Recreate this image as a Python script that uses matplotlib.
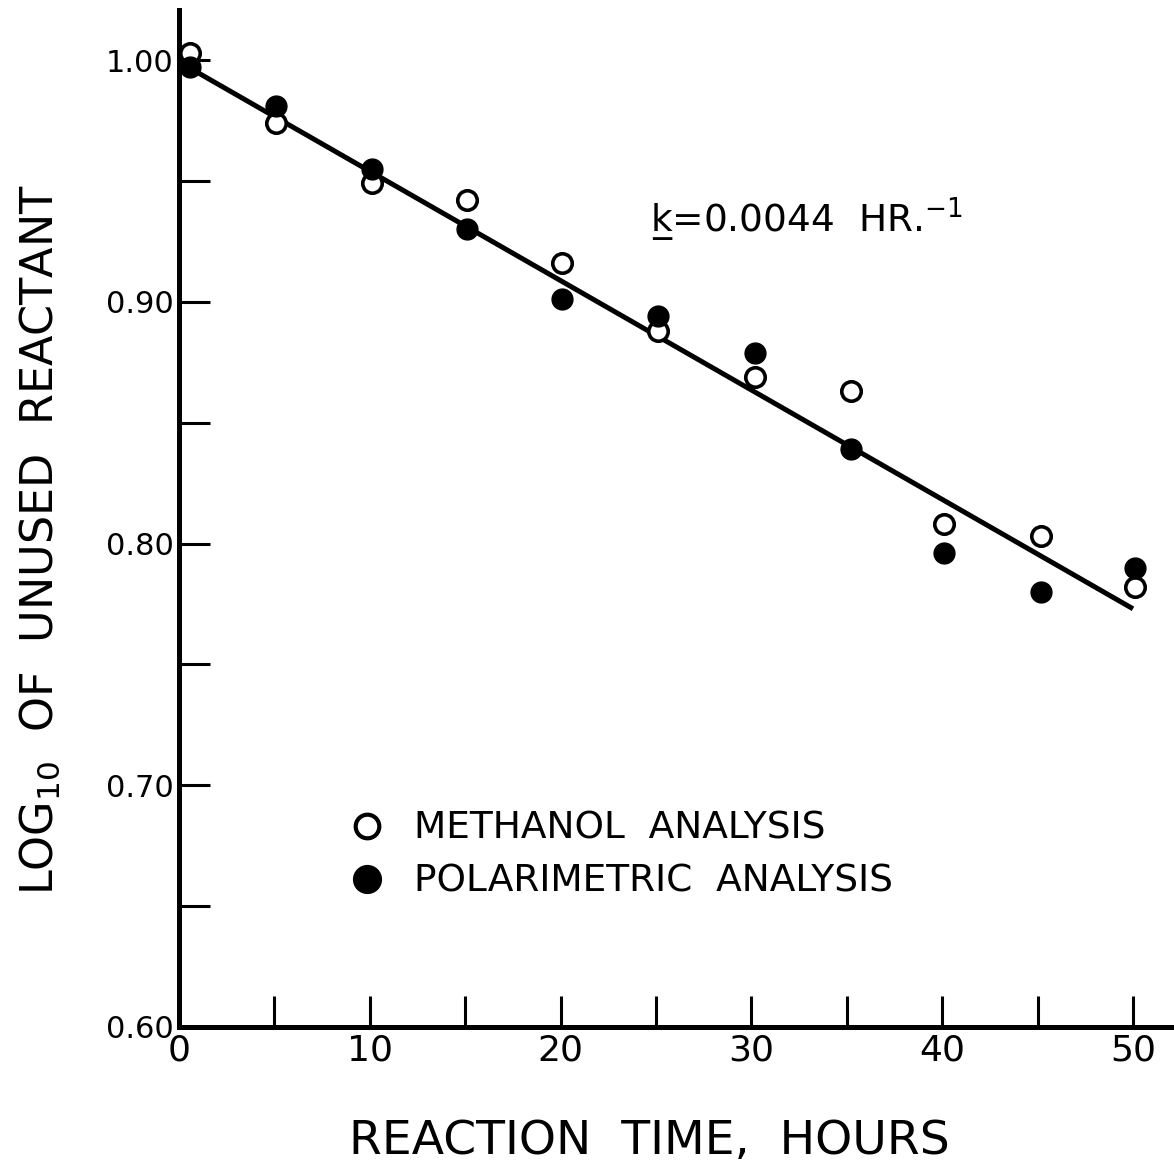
import matplotlib.pyplot as plt
from matplotlib.ticker import MultipleLocator, FormatStrFormatter
from matplotlib.lines import Line2D

# values
hours = [0.6, 5.1, 10.1, 15.1, 20.1, 25.1, 30.2, 35.2, 40.1, 45.2, 50.1]
methanol = [1.003, 0.974, 0.949, 0.942, 0.916, 0.888, 0.869, 0.863, 0.808, 0.803, 0.782]
polarimetric = [0.997, 0.981, 0.955, 0.930, 0.901, 0.894, 0.879, 0.839, 0.796, 0.780, 0.790]
fit_hours = [0.5, 50.0]
fit_log = [0.997, 0.773]

legend_labels = ["METHANOL  ANALYSIS", "POLARIMETRIC  ANALYSIS"]
rate_text = "k\u0332=0.0044  HR.$^{-1}$"

plt.rcParams['font.family'] = ['DejaVu Sans']
plt.rcParams['mathtext.fontset'] = 'dejavusans'

fig = plt.figure(figsize=(11.74, 11.72), dpi=100)
ax = fig.add_axes([179 / 1174, 1 - 1027 / 1172, 995 / 1174, 1017 / 1172])

ax.plot(fit_hours, fit_log, color='black', lw=3.6, zorder=2, solid_capstyle='butt')
ax.plot(hours, methanol, 'o', ms=14, mfc='white', mec='black', mew=2.6,
        ls='none', zorder=3)
ax.plot(hours, polarimetric, 'o', ms=15, mfc='black', mec='black',
        ls='none', zorder=3)

ax.set_xlim(0, 52.15)
ax.set_ylim(0.60, 1.0207)

for side in ['top', 'right']:
    ax.spines[side].set_visible(False)
for side in ['left', 'bottom']:
    ax.spines[side].set_linewidth(3.6)

ax.xaxis.set_major_locator(MultipleLocator(10))
ax.xaxis.set_minor_locator(MultipleLocator(5))
ax.yaxis.set_major_locator(MultipleLocator(0.10))
ax.yaxis.set_minor_locator(MultipleLocator(0.05))
ax.yaxis.set_major_formatter(FormatStrFormatter('%.2f'))

ax.tick_params(which='both', direction='in', length=22, width=2.2, color='black')
ax.tick_params(axis='x', labelsize=26, pad=5)
ax.tick_params(axis='y', labelsize=22, pad=4)

ax.set_xlabel("REACTION  TIME,  HOURS", fontsize=34)
ax.xaxis.set_label_coords(0.473, -0.09)
ax.xaxis.label.set_va('top')
ax.set_ylabel("LOG$_{10}$  OF  UNUSED  REACTANT", fontsize=32)
ax.yaxis.set_label_coords(-0.14, 0.479)
ax.yaxis.label.set_va('center')

ax.text(24.7, 0.934, rate_text, fontsize=27, ha='left', va='center')

handles = [
    Line2D([], [], marker='o', ls='none', ms=17, mfc='white', mec='black', mew=3),
    Line2D([], [], marker='o', ls='none', ms=20, mfc='black', mec='black'),
]
ax.legend(handles, legend_labels, loc='upper left', bbox_to_anchor=(0.151, 0.231),
          frameon=False, fontsize=27, handlelength=1.0, handletextpad=0.75,
          labelspacing=0.45, borderpad=0)

fig.savefig("out.png", dpi=100)
